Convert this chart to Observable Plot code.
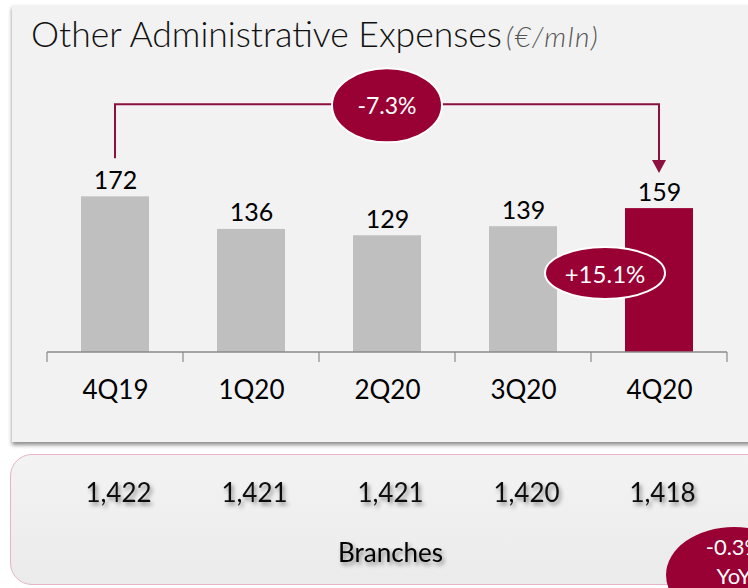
<!DOCTYPE html>
<html><head><meta charset="utf-8">
<script src="https://cdn.jsdelivr.net/npm/d3@7"></script>
<script src="https://cdn.jsdelivr.net/npm/@observablehq/plot@0.6"></script>
<style>
body{margin:0;background:#fff;font-family:Lato,sans-serif;}
#wrap{position:relative;width:748px;height:588px;overflow:hidden;}
#top{position:absolute;left:12px;top:5px;width:760px;height:437px;background:#f2f2f2;box-shadow:0 3px 4px rgba(0,0,0,0.45);}
#bottom{position:absolute;left:10px;top:454px;width:780px;height:129px;background:linear-gradient(#f3f3f3,#ebebeb);border:1px solid #e5b5c3;border-radius:22px;}
#title{position:absolute;left:31px;top:12px;font-family:Lato,sans-serif;font-weight:300;font-size:35.5px;color:#111;white-space:nowrap;}
#title span{font-style:italic;font-size:28px;letter-spacing:1.5px;color:#555;margin-left:4px;}
#chart{position:absolute;left:0;top:0;}
</style></head>
<body>
<svg width="0" height="0" style="position:absolute">
  <defs><filter id="tshadow" x="-20%" y="-30%" width="150%" height="180%"><feDropShadow dx="2" dy="3" stdDeviation="2" flood-color="#000" flood-opacity="0.45"/></filter></defs>
</svg>
<div id="wrap"><div id="top"></div><div id="bottom"></div>
<div id="title">Other Administrative Expenses<span>(€/mln)</span></div>
<div id="chart"></div></div>
<script>
const quarters = ["4Q19","1Q20","2Q20","3Q20","4Q20"];
const expenses = [172,136,129,139,159];
const branches = [1422,1421,1421,1420,1418];
const changeYoY = ["-7.3%"];          // 4Q19 -> 4Q20
const changeQoQ = ["+15.1%"];         // 3Q20 -> 4Q20
const branchesChange = ["-0.3%","YoY"];
const branchesLabel = "Branches";
const highlight = "4Q20";

const data = quarters.map((q,i)=>({q, v: expenses[i], b: branches[i]}));
const RED = "#990033", GREY = "#bfbfbf", LINE = "#8c1040";

function bubble(g, cx, cy, rx, ry, lines, fs, stroke, ty) {
  g.append("ellipse").attr("cx",cx).attr("cy",cy).attr("rx",rx).attr("ry",ry)
    .attr("fill",RED).attr("stroke",stroke ? "#fff" : "none").attr("stroke-width",2);
  const lh = fs*1.3, c = ty ?? cy;
  lines.forEach((t,i)=> g.append("text").attr("x",cx)
    .attr("y", c + (i-(lines.length-1)/2)*lh)
    .attr("text-anchor","middle").attr("dominant-baseline","central")
    .attr("fill","#fff").attr("font-size",fs).text(t));
}

const annotations = (index, scales) => {
  const {x, y} = scales;
  const g = d3.create("svg:g");
  const step = x.step(), bw = x.bandwidth(), gap = (step-bw)/2;
  const base = y(0);
  const left = x(quarters[0]) - gap, right = x(quarters[quarters.length-1]) + bw + gap;
  // axis line + boundary ticks
  g.append("line").attr("x1",left).attr("x2",right).attr("y1",base).attr("y2",base)
    .attr("stroke","#8a8a8a").attr("stroke-width",1.5);
  for (let i = 0; i <= quarters.length; i++) {
    const bx = i < quarters.length ? x(quarters[i]) - gap : right;
    g.append("line").attr("x1",bx).attr("x2",bx).attr("y1",base).attr("y2",base+10)
      .attr("stroke","#8a8a8a").attr("stroke-width",1.2);
  }
  // connector 4Q19 -> 4Q20
  const cA = x(quarters[0]) + bw/2, cB = x(highlight) + bw/2;
  const vA = expenses[0], vB = expenses[quarters.indexOf(highlight)];
  const topY = y(vA) - 92;
  const tipY = y(vB) - 35;
  g.append("path").attr("d",`M${cA},${y(vA)-38}V${topY}H${cB}V${tipY-12}`)
    .attr("fill","none").attr("stroke",LINE).attr("stroke-width",2);
  g.append("path").attr("d",`M${cB-7},${tipY-13}L${cB+7},${tipY-13}L${cB},${tipY}Z`).attr("fill",LINE);
  bubble(g, (cA+cB)/2, topY+1, 55, 37, changeYoY, 23, true);
  // QoQ bubble
  bubble(g, cB - 54, base - 79, 60, 26, changeQoQ, 24, true);
  // bottom-right YoY bubble for branches
  bubble(g, cB + 75, base + 223, 68, 48, branchesChange, 22, false, base + 209);
  return g.node();
};

const chart = Plot.plot({
  width: 748, height: 588,
  marginLeft: 46, marginRight: 20, marginTop: 171, marginBottom: 236,
  style: {background: "transparent", fontFamily: "Lato, sans-serif", overflow: "visible"},
  x: {domain: quarters, paddingInner: 0.5, paddingOuter: 0.25, axis: null},
  y: {domain: [0, 200], axis: null},
  color: {type: "identity"},
  marks: [
    Plot.barY(data, {x: "q", y: "v", fill: d => d.q === highlight ? RED : GREY}),
    annotations,
    Plot.text(data, {x: "q", y: "v", text: d => String(d.v), lineAnchor: "bottom", dy: -8, fontSize: 25, fill: "#000"}),
    Plot.text(data, {x: "q", y: () => 0, text: "q", dy: 38, fontSize: 26, fill: "#000"}),
    Plot.text(data, {x: "q", y: () => 0, text: d => d3.format(",")(d.b), dy: 141, dx: 3, fontSize: 26, fill: "#111", ariaDescription: "branches"}),
    Plot.text([branchesLabel], {x: () => quarters[2], y: () => 0, text: d => d, dy: 201, dx: 3, fontSize: 26, fill: "#000", ariaDescription: "branches"})
  ]
});
document.getElementById("chart").appendChild(chart);
chart.querySelectorAll('g[aria-description="branches"]').forEach(g => g.setAttribute("filter","url(#tshadow)"));
</script>
</body></html>
